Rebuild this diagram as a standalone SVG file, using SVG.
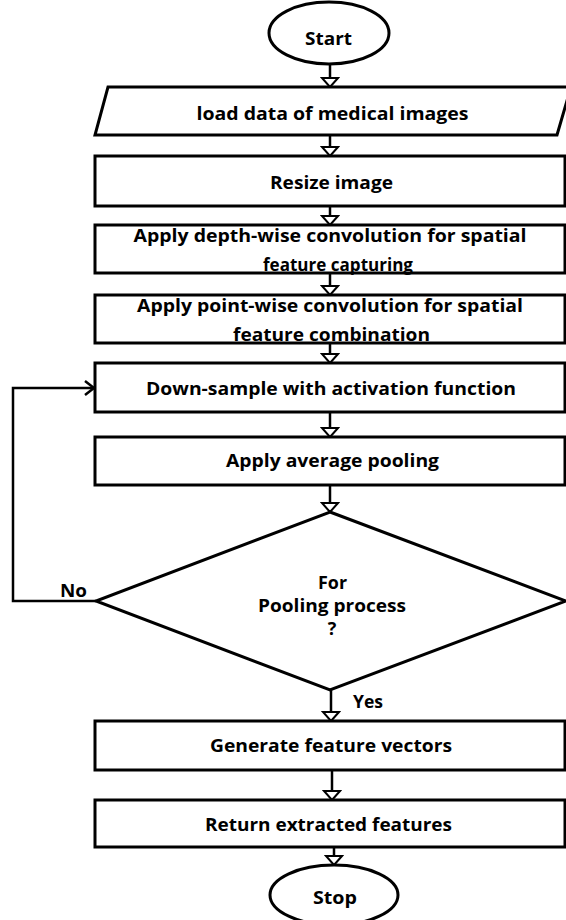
<svg xmlns="http://www.w3.org/2000/svg" width="566" height="920" viewBox="0 0 566 920">
  <style>
    .shape { fill: #ffffff; stroke: #000000; stroke-width: 3; }
    .conn { fill: none; stroke: #000000; stroke-width: 2.5; }
    .label { font-family: "Open Sans", "Liberation Sans", sans-serif; font-weight: 700; font-size: 18px; fill: #000000; text-anchor: middle; }
  </style>
  <defs>
    <!-- hollow triangle head for the downward flow arrows -->
    <marker id="tri" markerUnits="userSpaceOnUse" viewBox="-2 -10 13 20" markerWidth="13" markerHeight="20" refX="9" refY="0" orient="auto">
      <path d="M0,-8 L9,0 L0,8 Z" fill="#ffffff" stroke="#000000" stroke-width="2"/>
    </marker>
    <!-- open chevron head for the loop-back arrow -->
    <marker id="chev" markerUnits="userSpaceOnUse" viewBox="-2 -10 13 20" markerWidth="13" markerHeight="20" refX="9" refY="0" orient="auto">
      <path d="M0,-7 L9,0 L0,7" fill="none" stroke="#000000" stroke-width="2.5"/>
    </marker>
  </defs>

  <g id="connectors">
    <path class="conn" d="M330,64 V87" marker-end="url(#tri)"/>
    <path class="conn" d="M330,135 V156" marker-end="url(#tri)"/>
    <path class="conn" d="M330,206 V225" marker-end="url(#tri)"/>
    <path class="conn" d="M330,273 V295" marker-end="url(#tri)"/>
    <path class="conn" d="M330,343 V363" marker-end="url(#tri)"/>
    <path class="conn" d="M330,412 V437" marker-end="url(#tri)"/>
    <path class="conn" d="M330,485 V512" marker-end="url(#tri)"/>
    <path class="conn" d="M331,690 V721" marker-end="url(#tri)"/>
    <path class="conn" d="M332,770 V800" marker-end="url(#tri)"/>
    <path class="conn" d="M334,847 V865" marker-end="url(#tri)"/>
    <path class="conn" d="M96,601 H13 V388 H94" marker-end="url(#chev)"/>
    <text class="label" x="73.5" y="597" textLength="27" lengthAdjust="spacingAndGlyphs">No</text>
    <text class="label" x="368" y="708" textLength="30" lengthAdjust="spacingAndGlyphs">Yes</text>
  </g>

  <g id="start">
    <ellipse class="shape" cx="329" cy="33" rx="60" ry="31"/>
    <text class="label" x="328.5" y="45" textLength="47" lengthAdjust="spacingAndGlyphs">Start</text>
  </g>

  <g id="load-data">
    <polygon class="shape" points="108,87 571,87 557,135 95,135"/>
    <text class="label" x="332.5" y="120" textLength="272" lengthAdjust="spacingAndGlyphs">load data of medical images</text>
  </g>

  <g id="resize">
    <rect class="shape" x="95" y="156" width="470" height="50"/>
    <text class="label" x="331.5" y="189" textLength="123" lengthAdjust="spacingAndGlyphs">Resize image</text>
  </g>

  <g id="depthwise">
    <rect class="shape" x="95" y="225" width="470" height="48"/>
    <text class="label" x="330" y="242" textLength="393" lengthAdjust="spacingAndGlyphs">Apply depth-wise convolution for spatial</text>
    <text class="label" x="338" y="271" textLength="150" lengthAdjust="spacingAndGlyphs">feature capturing</text>
  </g>

  <g id="pointwise">
    <rect class="shape" x="95" y="295" width="470" height="48"/>
    <text class="label" x="330" y="312" textLength="386" lengthAdjust="spacingAndGlyphs">Apply point-wise convolution for spatial</text>
    <text class="label" x="331.5" y="341" textLength="197" lengthAdjust="spacingAndGlyphs">feature combination</text>
  </g>

  <g id="downsample">
    <rect class="shape" x="95" y="363" width="470" height="49"/>
    <text class="label" x="331" y="395" textLength="370" lengthAdjust="spacingAndGlyphs">Down-sample with activation function</text>
  </g>

  <g id="avg-pooling">
    <rect class="shape" x="95" y="437" width="470" height="48"/>
    <text class="label" x="332.5" y="467" textLength="213" lengthAdjust="spacingAndGlyphs">Apply average pooling</text>
  </g>

  <g id="decision">
    <polygon class="shape" points="330,512 566,601 330,690 96,601"/>
    <text class="label" x="332.5" y="589" textLength="29" lengthAdjust="spacingAndGlyphs">For</text>
    <text class="label" x="332" y="612" textLength="148" lengthAdjust="spacingAndGlyphs">Pooling process</text>
    <text class="label" x="332" y="635">?</text>
  </g>

  <g id="generate">
    <rect class="shape" x="95" y="721" width="470" height="49"/>
    <text class="label" x="331" y="752" textLength="242" lengthAdjust="spacingAndGlyphs">Generate feature vectors</text>
  </g>

  <g id="return">
    <rect class="shape" x="95" y="800" width="470" height="47"/>
    <text class="label" x="328.5" y="831" textLength="247" lengthAdjust="spacingAndGlyphs">Return extracted features</text>
  </g>

  <g id="stop">
    <ellipse class="shape" cx="334" cy="895" rx="64" ry="30"/>
    <text class="label" x="335" y="904" textLength="44" lengthAdjust="spacingAndGlyphs">Stop</text>
  </g>
</svg>
